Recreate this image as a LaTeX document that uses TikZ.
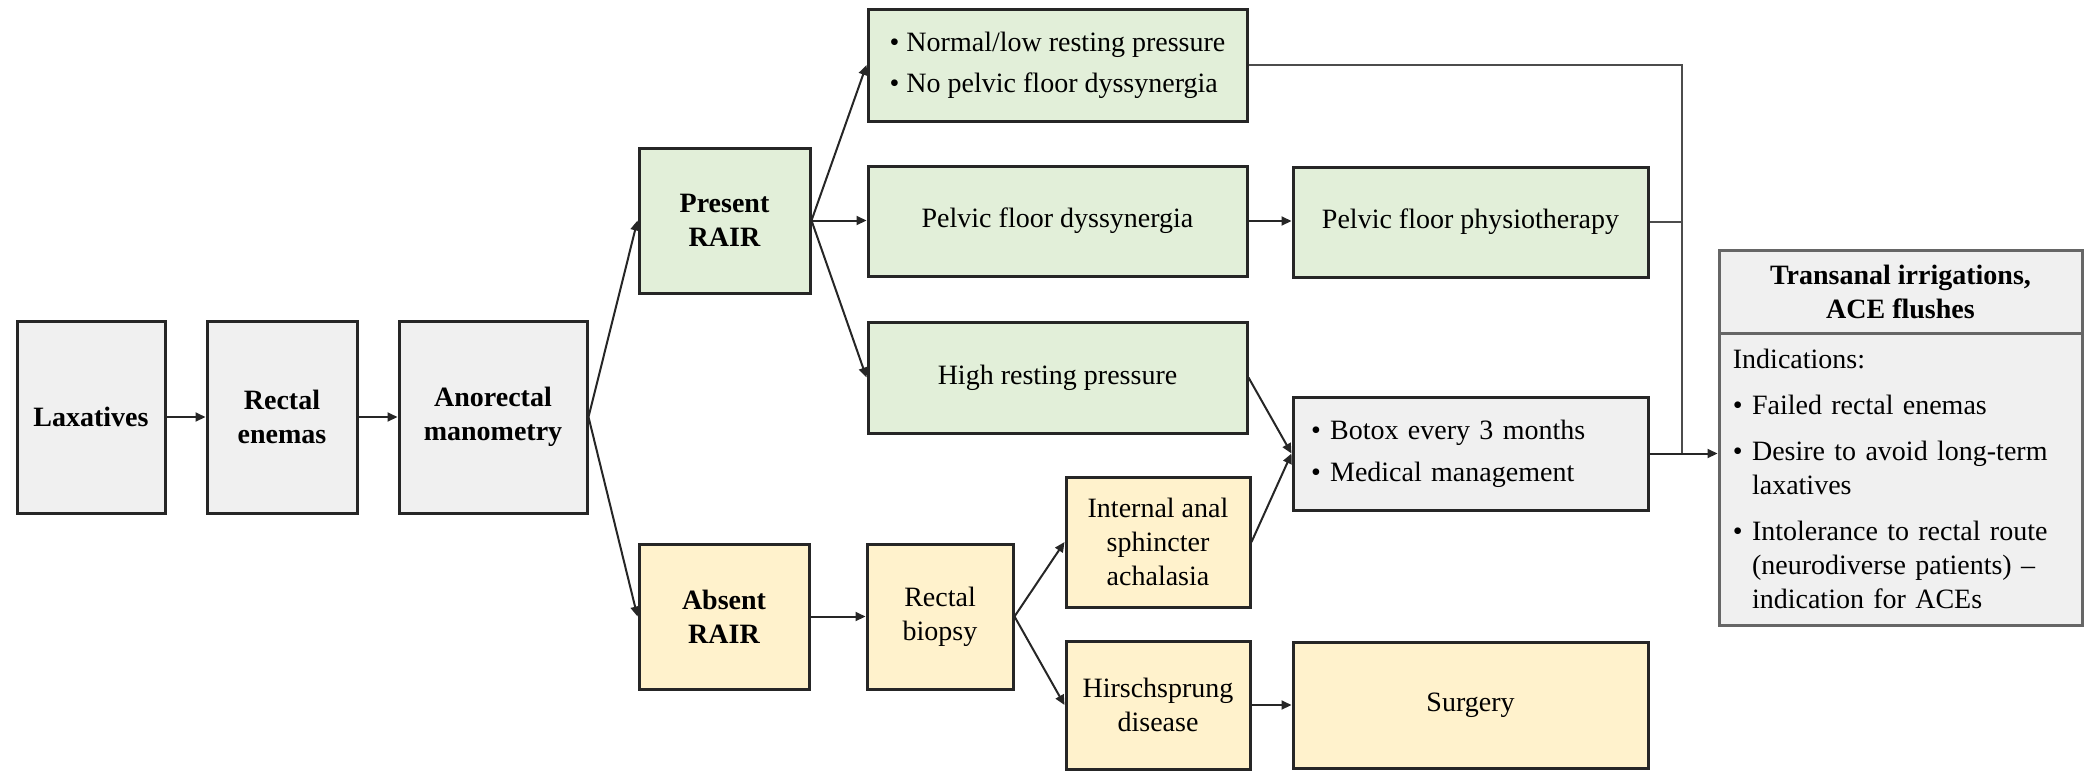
\documentclass[tikz,border=0pt]{standalone}
\usepackage{fontspec}
\setmainfont{Liberation Serif}
\usetikzlibrary{arrows.meta}
\definecolor{bgray}{HTML}{F0F0F0}
\definecolor{bgreen}{HTML}{E2EFD9}
\definecolor{byellow}{HTML}{FFF2CC}
\newcommand\myfs{\fontsize{14pt}{17pt}\selectfont}
\begin{document}
\begin{tikzpicture}[x=0.5pt,y=-0.5pt,
  box/.style={draw=black!85, line width=1.5pt, inner sep=0pt, align=center, font=\myfs},
  gbox/.style={box, fill=bgray},
  grbox/.style={box, fill=bgreen},
  ybox/.style={box, fill=byellow},
  bold/.style={font=\myfs\bfseries},
  arr/.style={-{Triangle[length=5pt,width=4.5pt]}, line width=1pt, draw=black!85},
  coll/.style={line width=1pt, draw=black!70}]
\useasboundingbox (0,0) rectangle (2084,772);
% left chain
\node[gbox, bold, minimum width=74pt, minimum height=96pt] (lax) at (91,417) {Laxatives};
\node[gbox, bold, minimum width=75pt, minimum height=96pt] (enem) at (282,417) {Rectal\\ enemas};
\node[gbox, bold, minimum width=94pt, minimum height=96pt] (mano) at (493,417) {Anorectal\\ manometry};
% RAIR
\node[grbox, bold, minimum width=85.5pt, minimum height=72.5pt] (pres) at (724.5,220.5) {Present\\ RAIR};
\node[ybox, bold, minimum width=85pt, minimum height=72.5pt] (abs) at (724,616.5) {Absent\\ RAIR};
% green column
\node[grbox, align=left, minimum width=189.5pt, minimum height=56pt] (norm) at (1057.5,65)
  {\textbullet\ Normal/low resting pressure\\[3.5pt]\textbullet\ No pelvic floor dyssynergia};
\node[grbox, minimum width=189.5pt, minimum height=55pt] (pfd) at (1057.5,221) {Pelvic floor dyssynergia};
\node[grbox, minimum width=189.5pt, minimum height=55.5pt] (high) at (1057.5,377.5) {High resting pressure};
\node[grbox, minimum width=177.5pt, minimum height=55pt] (phys) at (1470.5,222) {Pelvic floor physiotherapy};
\node[gbox, align=left, text width=159.5pt, minimum width=177.5pt, minimum height=56.5pt] (botox) at (1470.5,453.5)
  {\textbullet\ Botox every 3 months\\[4pt]\textbullet\ Medical management};
% yellow
\node[ybox, minimum width=73pt, minimum height=72.5pt] (biop) at (940,616.5) {Rectal\\ biopsy};
\node[ybox, minimum width=92pt, minimum height=65pt] (ias) at (1158,542) {Internal anal\\ sphincter\\ achalasia};
\node[ybox, minimum width=92pt, minimum height=64pt] (hirsch) at (1158,705) {Hirschsprung\\ disease};
\node[ybox, minimum width=177.5pt, minimum height=63pt] (surg) at (1470.5,705) {Surgery};
% transanal box
\node[gbox, bold, draw=black!60, minimum width=181.5pt, minimum height=41.5pt] (thead) at (1900.5,291.5)
  {Transanal irrigations,\\ ACE flushes};
\node[gbox, draw=black!60, minimum width=181.5pt, minimum height=146pt] (tbody) at (1900.5,479) {};
\node[anchor=north west, inner sep=0pt, align=left, text width=166pt, font=\myfs] (ttext)
  at ([xshift=7.5pt,yshift=-8.5pt]tbody.north west)
  {Indications:\\[6pt]
   \textbullet\ Failed rectal enemas\\[6pt]
   \textbullet\ Desire to avoid long-term\\
   \hphantom{\textbullet\ }laxatives\\[6pt]
   \textbullet\ Intolerance to rectal route\\
   \hphantom{\textbullet\ }(neurodiverse patients) --\\
   \hphantom{\textbullet\ }indication for ACEs};
% connectors
\draw[arr] (lax) -- (enem);
\draw[arr] (enem) -- (mano);
\draw[arr] (mano.east) -- (pres.west);
\draw[arr] (mano.east) -- (abs.west);
\draw[arr] (pres.east) -- (norm.west);
\draw[arr] (pres.east) -- (pres.east -| pfd.west);
\draw[arr] (pres.east) -- (high.west);
\draw[arr] (pfd.east) -- (pfd.east -| phys.west);
\draw[arr] (high.east) -- (botox.west);
\draw[arr] (ias.east) -- (botox.west);
\draw[arr] (abs) -- (biop);
\draw[arr] (biop.east) -- (ias.west);
\draw[arr] (biop.east) -- (hirsch.west);
\draw[arr] (hirsch) -- (surg);
\coordinate (j) at (1682,453.5);
\draw[coll] (norm.east) -| (j);
\draw[coll] (phys.east) -- (phys.east -| j);
\draw[arr] (botox.east) -- (botox.east -| tbody.west);
\end{tikzpicture}
\end{document}
